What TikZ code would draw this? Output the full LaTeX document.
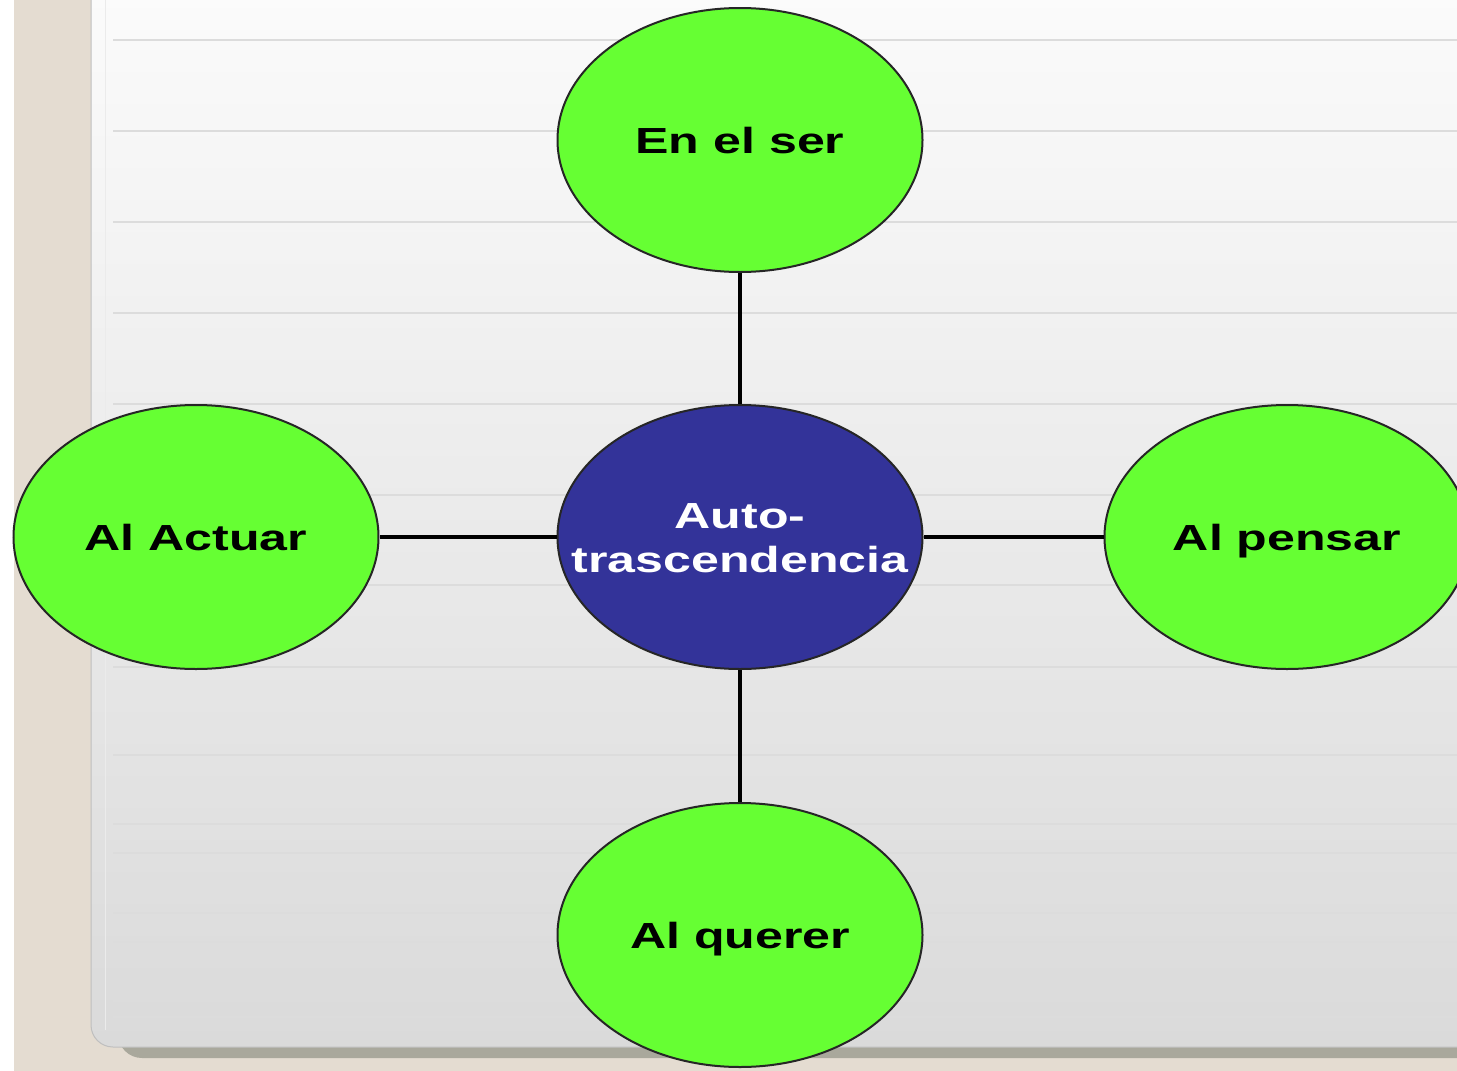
\documentclass[tikz,border=0pt]{standalone}
\usepackage{fontspec}
\setmainfont{Liberation Sans}
\newfontfamily\lblfont[FakeStretch=1.38]{Liberation Sans}
\usetikzlibrary{shapes.geometric}
\definecolor{beige}{HTML}{E4DCD1}
\definecolor{shadowc}{HTML}{A9A89C}
\definecolor{paneltop}{HTML}{FCFCFC}
\definecolor{panelbot}{HTML}{DADADA}
\definecolor{ruleline}{HTML}{DCDCDC}
\definecolor{leafgreen}{HTML}{66FF33}
\definecolor{corebl}{HTML}{333399}
\tikzset{
  leaf/.style={ellipse, draw=black!85, line width=2pt, fill=leafgreen,
    minimum width=365pt, minimum height=264pt, inner sep=0pt,
    font=\lblfont\bfseries\fontsize{36.3}{44}\selectfont,
    text height=26pt, text depth=0pt},
  core/.style={ellipse, draw=black!85, line width=2pt, fill=corebl,
    minimum width=365pt, minimum height=264pt, inner sep=0pt,
    text=white, font=\lblfont\bfseries\fontsize{36.3}{44}\selectfont},
  conn/.style={draw=black, line width=3.5pt},
  rule/.style={draw=ruleline, line width=1.2pt}
}
\begin{document}
\begin{tikzpicture}[x=1pt,y=-1pt]
\useasboundingbox (0,0) rectangle (1457,1071);
\fill[white] (0,0) rectangle (1457,1071);
\fill[beige] (14,0) rectangle (1457,1071);
% shadow under panel
\fill[shadowc, rounded corners=24] (118,1000) rectangle (1500,1058);
% panel
\shade[top color=paneltop, bottom color=panelbot, rounded corners=22]
  (91,-40) rectangle (1500,1047);
\draw[black!25, line width=1pt, rounded corners=22] (91,-40) -- (91,1047) -- (1500,1047);
\draw[white!92!black, line width=1pt] (105,0) -- (105,1030);
% ruled lines
\foreach \yy in {40,131,222,313,404,495,585,667,755,824,853,913,942,1001,1017}
  \draw[rule] (113,\yy) -- (1457,\yy);
% nodes
\node[core] (ctr) at (740,537) {\makebox[0pt][c]{\raisebox{-4.5pt}[\height][\depth]{\begin{tabular}{@{}c@{}}Auto-\\trascendencia\end{tabular}}}};
\node[leaf] (top) at (740,140) {En el ser};
\node[leaf] (lft) at (196,537) {Al Actuar};
\node[leaf] (rgt) at (1287,537) {Al pensar};
\node[leaf] (bot) at (740,935) {Al querer};
% connectors
\draw[conn] (top) -- (ctr);
\draw[conn] (lft) -- (ctr);
\draw[conn] (rgt) -- (ctr);
\draw[conn] (bot) -- (ctr);
\end{tikzpicture}
\end{document}
